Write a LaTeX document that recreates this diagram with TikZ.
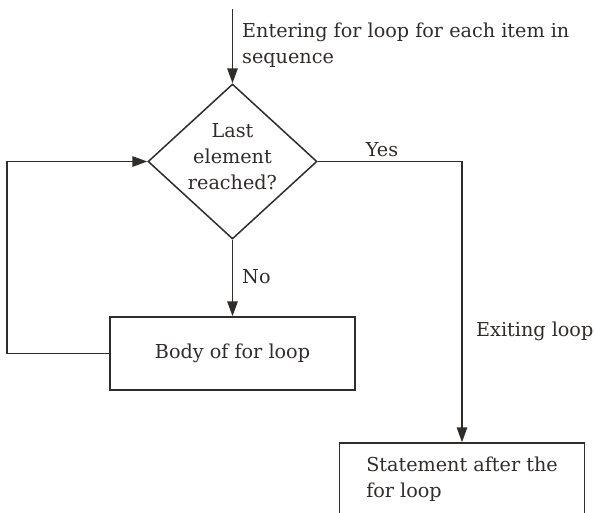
\documentclass[tikz,border=0pt]{standalone}
\usepackage{fontspec}
\setmainfont{DejaVu Serif}
\usetikzlibrary{shapes.geometric,arrows.meta}
\definecolor{ink}{RGB}{48,44,42}
\begin{document}
\begin{tikzpicture}[x=1pt,y=-1pt,
  every node/.style={text=ink, font=\fontsize{19.2}{26}\selectfont},
  flow/.style={draw=ink, line width=1.5pt, -{Triangle[length=15pt,width=10.5pt]}},
  decision/.style={diamond, draw=ink, line width=1.5pt, minimum width=169pt,
    minimum height=155pt, inner sep=0pt},
  stepbox/.style={rectangle, draw=ink, line width=1.5pt, minimum width=245pt,
    minimum height=73pt, inner sep=0pt, align=left},
  tag/.style={inner sep=0pt, align=left}]
  % page frame; the lower box runs past the bottom edge
  \clip (0,0) rectangle (595,512);

  % nodes
  \coordinate (entry) at (232.5,9);
  \node[decision] (dec) at (232.5,161.5) {};
  \node[tag, align=center] (dectext) at (232.5,157) {Last\\element\\reached?};
  \node[stepbox] (body) at (232.5,353.5) {Body of for loop};
  \node[stepbox] (stmt) at (462,479.5) {Statement after the\\for loop};

  % labels
  \node[tag, anchor=west] (enter) at (242,45) {Entering for loop for each item in\\sequence};
  \node[tag, anchor=base] (yes) at (382,156.5) {Yes};
  \node[tag, anchor=base west] (no) at (242,283.5) {No};
  \node[tag, anchor=base west] (exit) at (476,336.5) {Exiting loop};

  % connectors
  \draw[flow] (entry) -- (dec.north);
  \draw[flow] (dec.south) -- (body.north);
  \draw[flow] (dec.east) -| (stmt.north);
  \draw[flow] (body.west) -- ++(-102.5,0) |- (dec.west);
\end{tikzpicture}
\end{document}
